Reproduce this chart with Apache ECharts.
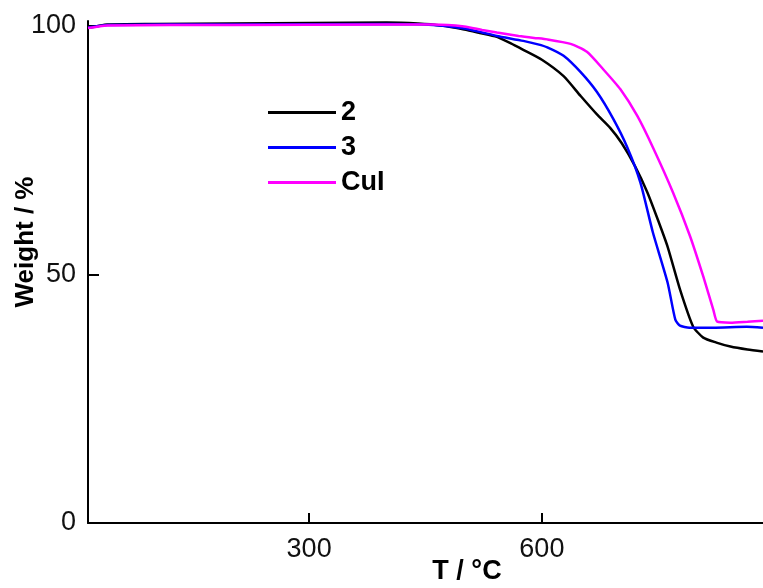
<!DOCTYPE html>
<html>
<head>
<meta charset="utf-8">
<script src="https://cdn.jsdelivr.net/npm/echarts@6/dist/echarts.min.js"></script>
<style>
  html, body { margin: 0; padding: 0; background: #fff; }
  #chart { width: 763px; height: 588px; }
</style>
</head>
<body>
<div id="chart"></div>
<script>
// TGA curves, [T (°C), weight (%)]
const seriesNames = ['2', '3', 'CuI'];
const seriesColors = ['#000000', '#0000ff', '#ff00ff'];

const curve2 = [
  [15, 99.7], [25, 99.9], [40, 100.3], [100, 100.4], [200, 100.5], [300, 100.6],
  [400, 100.7], [440, 100.5], [470, 100.1], [500, 99.3], [520, 98.6], [542, 97.8],
  [560, 96.5], [576, 95.2], [600, 93.2], [628, 89.9], [650, 85.9], [671, 82.2],
  [688, 79.5], [703, 76.4], [720, 71.8], [736, 66.5], [750, 60.8], [762, 55.6],
  [778, 47.0], [795, 39.5], [808, 37.3], [825, 36.3], [843, 35.5], [865, 34.9],
  [885, 34.5]
];
const curve3 = [
  [15, 99.7], [25, 99.9], [40, 100.2], [200, 100.3], [400, 100.4], [460, 100.2],
  [500, 99.5], [523, 98.7], [542, 98.0], [576, 97.0], [595, 96.3], [607, 95.7],
  [628, 94.0], [650, 90.7], [671, 86.7], [692, 81.3], [710, 75.6], [727, 68.5],
  [743, 58.5], [762, 48.4], [772, 40.9], [778, 39.7], [790, 39.3], [821, 39.3],
  [864, 39.5], [885, 39.3]
];
const curveCuI = [
  [15, 99.6], [25, 99.8], [40, 100.1], [200, 100.2], [400, 100.3], [460, 100.3],
  [500, 99.9], [523, 99.2], [542, 98.7], [570, 98.0], [590, 97.6], [607, 97.3],
  [637, 96.4], [658, 94.8], [679, 91.3], [701, 87.3], [723, 81.9], [743, 75.6],
  [769, 66.5], [791, 57.7], [808, 49.6], [821, 42.9], [826, 40.5], [843, 40.3],
  [865, 40.5], [885, 40.7]
];
const xTicks = [300, 600];
const yTicks = [0, 50, 100];

const chart = echarts.init(document.getElementById('chart'));
const font = 'Liberation Sans, Arial, sans-serif';

chart.setOption({
  animation: false,
  grid: { left: 88, right: 0, top: 21, bottom: 65 },
  xAxis: {
    type: 'value',
    min: 15,
    max: 885,
    axisLine: { lineStyle: { color: '#000', width: 2 } },
    axisTick: { inside: true, length: 10, customValues: xTicks, lineStyle: { color: '#000', width: 2 } },
    axisLabel: { customValues: xTicks, color: '#111', fontSize: 27, fontFamily: font, margin: 13 },
    splitLine: { show: false }
  },
  yAxis: {
    type: 'value',
    min: 0,
    max: 101,
    axisLine: { show: true, lineStyle: { color: '#000', width: 2 } },
    axisTick: { show: true, inside: true, length: 11, customValues: yTicks, lineStyle: { color: '#000', width: 2 } },
    axisLabel: { customValues: yTicks, color: '#111', fontSize: 27, fontFamily: font, margin: 12 },
    splitLine: { show: false }
  },
  legend: {
    orient: 'vertical',
    left: 263,
    top: 94,
    icon: 'rect',
    itemWidth: 68,
    itemHeight: 3,
    itemGap: 8,
    textStyle: { color: '#000', fontSize: 27, fontWeight: 'bold', fontFamily: font, lineHeight: 23 },
    data: seriesNames
  },
  graphic: [
    {
      type: 'text', x: 467, y: 572,
      style: { text: 'T / °C', font: 'bold 27px ' + font, fill: '#000', align: 'center', verticalAlign: 'middle' }
    },
    {
      type: 'text', x: 26, y: 242, rotation: Math.PI / 2,
      style: { text: 'Weight / %', font: 'bold 26px ' + font, fill: '#000', align: 'center', verticalAlign: 'middle' }
    }
  ],
  series: [curve2, curve3, curveCuI].map((d, i) => ({
    name: seriesNames[i],
    type: 'line',
    data: d,
    smooth: 0.2,
    symbol: 'none',
    lineStyle: { color: seriesColors[i], width: 2.5 },
    itemStyle: { color: seriesColors[i] }
  }))
});
</script>
</body>
</html>
